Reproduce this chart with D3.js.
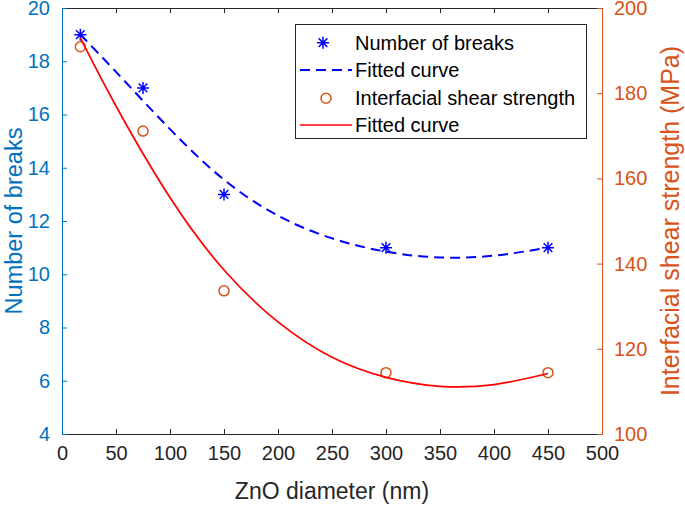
<!DOCTYPE html>
<html><head><meta charset="utf-8">
<script src="https://cdn.jsdelivr.net/npm/d3@7"></script>
<style>body{margin:0;background:#fff}svg{display:block;font-family:Arial,"Liberation Sans",sans-serif}</style>
</head><body>
<svg id="c" width="685" height="505"></svg>
<script>
// ---- data ----
const diameters = [17, 75, 150, 300, 450];
const breaks = [19, 17, 13, 11, 11];
const ifss = [190.9, 171.1, 133.6, 114.4, 114.4];
const fitX = [17, 50, 100, 150, 200, 250, 300, 350, 400, 450];
const breaksFit = [19.0, 17.6, 15.45, 13.55, 12.2, 11.35, 10.85, 10.63, 10.7, 11.0];
const ifssFit = [193, 177, 155.5, 138.5, 126.3, 118, 113.3, 111.2, 111.6, 114.2];
const xTicks = [0, 50, 100, 150, 200, 250, 300, 350, 400, 450, 500];
const yLeftTicks = [4, 6, 8, 10, 12, 14, 16, 18, 20];
const yRightTicks = [100, 120, 140, 160, 180, 200];
const legendLabels = ["Number of breaks", "Fitted curve", "Interfacial shear strength", "Fitted curve"];

const BLUE_AX = "#0072BD", ORANGE = "#D95319", INK = "#262626";
const svg = d3.select("#c");
const L = 62, R = 602, T = 8, B = 434;
const x = d3.scaleLinear().domain([0, 500]).range([L, R]);
const yL = d3.scaleLinear().domain([4, 20]).range([B, T]);
const yR = d3.scaleLinear().domain([100, 200]).range([B, T]);

// axes
const gx = svg.append("g").attr("transform", `translate(0,${B})`)
  .call(d3.axisBottom(x).tickValues(xTicks).tickSizeInner(-5).tickSizeOuter(0).tickPadding(12));
gx.select(".domain").attr("stroke", INK);
gx.selectAll(".tick line").attr("stroke", INK);
gx.selectAll("text").attr("fill", INK).style("font-size", "20px");
const gxt = svg.append("g").attr("transform", `translate(0,${T})`)
  .call(d3.axisTop(x).tickValues(xTicks).tickSizeInner(-5).tickSizeOuter(0).tickFormat(""));
gxt.select(".domain").attr("stroke", INK);
gxt.selectAll(".tick line").attr("stroke", INK);

const gl = svg.append("g").attr("transform", `translate(${L},0)`)
  .call(d3.axisLeft(yL).tickValues(yLeftTicks).tickSizeInner(-5).tickSizeOuter(0).tickPadding(12));
gl.select(".domain").attr("stroke", BLUE_AX);
gl.selectAll(".tick line").attr("stroke", BLUE_AX);
gl.selectAll("text").attr("fill", BLUE_AX).style("font-size", "20px");

const gr = svg.append("g").attr("transform", `translate(${R},0)`)
  .call(d3.axisRight(yR).tickValues(yRightTicks).tickSizeInner(-5).tickSizeOuter(0).tickPadding(12));
gr.select(".domain").attr("stroke", ORANGE);
gr.selectAll(".tick line").attr("stroke", ORANGE);
gr.selectAll("text").attr("fill", ORANGE).style("font-size", "20px");
svg.selectAll(".tick text").attr("font-family", null);

// axis labels
svg.append("text").attr("x", (L + R) / 2).attr("y", 499).attr("text-anchor", "middle")
  .attr("fill", INK).style("font-size", "23px").text("ZnO diameter (nm)");
svg.append("text").attr("transform", `translate(21.5,${(T + B) / 2}) rotate(-90)`).attr("text-anchor", "middle")
  .attr("fill", BLUE_AX).style("font-size", "23.5px").text("Number of breaks");
svg.append("text").attr("transform", `translate(679,${(T + B) / 2}) rotate(-90)`).attr("text-anchor", "middle")
  .attr("fill", ORANGE).style("font-size", "25px").text("Interfacial shear strength (MPa)");

// marker helpers
function star(g, cx, cy, s, color) {
  const p = `M${cx - s},${cy}L${cx + s},${cy}M${cx},${cy - s}L${cx},${cy + s}` +
    `M${cx - s * 0.72},${cy - s * 0.72}L${cx + s * 0.72},${cy + s * 0.72}M${cx - s * 0.72},${cy + s * 0.72}L${cx + s * 0.72},${cy - s * 0.72}`;
  g.append("path").attr("d", p).attr("stroke", color).attr("stroke-width", 1.5).attr("fill", "none");
}

const plot = svg.append("g");
// fitted lines
const lineL = d3.line().x((d, i) => x(fitX[i])).y(d => yL(d)).curve(d3.curveNatural);
const lineR = d3.line().x((d, i) => x(fitX[i])).y(d => yR(d)).curve(d3.curveNatural);
plot.append("path").attr("d", lineL(breaksFit)).attr("fill", "none").attr("stroke", "#0000FF")
  .attr("stroke-width", 2).attr("stroke-dasharray", "10,6");
// stars
diameters.forEach((d, i) => star(plot, x(d), yL(breaks[i]), 6, "#0000FF"));
// circles
plot.selectAll("circle.ifss").data(ifss).join("circle").attr("class", "ifss")
  .attr("cx", (d, i) => x(diameters[i])).attr("cy", d => yR(d)).attr("r", 5)
  .attr("fill", "none").attr("stroke", ORANGE).attr("stroke-width", 1.5);
plot.append("path").attr("d", lineR(ifssFit)).attr("fill", "none").attr("stroke", "#FF0000")
  .attr("stroke-width", 1.7);

// legend
const lg = svg.append("g");
lg.append("rect").attr("x", 295.5).attr("y", 24.5).attr("width", 291).attr("height", 114)
  .attr("fill", "#fff").attr("stroke", INK).attr("stroke-width", 1);
const rowY = [42.7, 70, 98.3, 125];
legendLabels.forEach((t, i) => {
  lg.append("text").attr("x", 355).attr("y", rowY[i]).attr("dy", "0.35em")
    .attr("fill", "#000").style("font-size", "20px").text(t);
});
star(lg, 323, rowY[0], 6, "#0000FF");
lg.append("line").attr("x1", 300).attr("x2", 352).attr("y1", rowY[1]).attr("y2", rowY[1])
  .attr("stroke", "#0000FF").attr("stroke-width", 2).attr("stroke-dasharray", "10,6");
lg.append("circle").attr("cx", 326).attr("cy", rowY[2]).attr("r", 5).attr("fill", "none")
  .attr("stroke", ORANGE).attr("stroke-width", 1.5);
lg.append("line").attr("x1", 300).attr("x2", 352).attr("y1", rowY[3]).attr("y2", rowY[3])
  .attr("stroke", "#FF0000").attr("stroke-width", 1.7);
</script>
</body></html>
